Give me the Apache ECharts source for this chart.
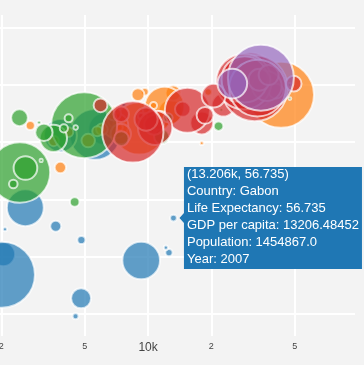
<!DOCTYPE html>
<html>
<head>
<meta charset="utf-8">
<script src="https://cdn.jsdelivr.net/npm/echarts@6/dist/echarts.min.js"></script>
<style>
html,body{margin:0;padding:0;background:rgb(243,243,243);}
#chart{width:364px;height:365px;}
</style>
</head>
<body>
<div id="chart"></div>
<script>
// ---- Data: Gapminder 2007 ----
const africaNames = ["Algeria","Angola","Benin","Botswana","Burkina Faso","Burundi","Cameroon","Central African Republic","Chad","Comoros","Congo, Dem. Rep.","Congo, Rep.","Cote d'Ivoire","Djibouti","Egypt","Equatorial Guinea","Eritrea","Ethiopia","Gabon","Gambia","Ghana","Guinea","Guinea-Bissau","Kenya","Lesotho","Liberia","Libya","Madagascar","Malawi","Mali","Mauritania","Mauritius","Morocco","Mozambique","Namibia","Niger","Nigeria","Reunion","Rwanda","Sao Tome and Principe","Senegal","Sierra Leone","Somalia","South Africa","Sudan","Swaziland","Tanzania","Togo","Tunisia","Uganda","Zambia","Zimbabwe"];
const africaGdp = [6223.37,4797.23,1441.28,12569.85,1217.03,430.07,2042.10,706.02,1704.06,986.15,277.55,3632.56,1544.75,2082.48,5581.18,12154.09,641.37,690.81,13206.48452,752.75,1327.61,942.65,579.23,1463.25,1569.33,414.51,12057.50,1044.77,759.35,1042.58,1803.15,10956.99,3820.18,823.69,4811.06,619.68,2013.98,7670.12,863.09,1598.44,1712.47,862.54,926.14,9269.66,2602.39,4513.48,1107.48,882.97,7092.92,1056.38,1271.21,469.71];
const africaLife = [72.301,42.731,56.728,50.728,52.295,49.58,50.43,44.741,50.651,65.152,46.462,55.322,48.328,54.791,71.338,51.579,58.04,52.947,56.735,59.448,60.022,56.007,46.388,54.11,42.592,45.678,73.952,59.443,48.303,54.467,64.164,72.801,71.164,42.082,52.906,56.867,46.859,76.442,46.242,65.528,63.062,42.568,48.159,49.339,58.556,39.613,52.517,58.42,73.923,51.542,42.384,43.487];
const africaPop = [33333216,12420476,8078314,1639131,14326203,8390505,17696293,4369038,10238807,710960,64606759,3800610,18013409,496374,80264543,551201,4906585,76511887,1454867,1688359,22873338,9947814,1472041,35610177,2012649,3193942,6036914,19167654,13327079,12031795,3270065,1250882,33757175,19951656,2055080,12894865,135031164,798094,8860588,199579,12267493,6144562,9118773,43997828,42292929,1133066,38139640,5701579,10276158,29170398,11746035,12311143];

const americasNames = ["Argentina","Bolivia","Brazil","Canada","Chile","Colombia","Costa Rica","Cuba","Dominican Republic","Ecuador","El Salvador","Guatemala","Haiti","Honduras","Jamaica","Mexico","Nicaragua","Panama","Paraguay","Peru","Puerto Rico","Trinidad and Tobago","United States","Uruguay","Venezuela"];
const americasGdp = [12779.38,3822.14,9065.80,36319.24,13171.64,7006.58,9645.06,8948.10,6025.37,6873.26,5728.35,5186.05,1201.64,3548.33,7320.88,11977.57,2749.32,9809.19,4172.84,7408.91,19328.71,18008.51,42951.65,10611.46,11415.81];
const americasLife = [75.32,65.554,72.39,80.653,78.553,72.889,78.782,78.273,72.235,74.994,71.878,70.259,60.916,70.198,72.567,76.195,72.899,75.537,71.752,71.421,78.746,69.819,78.242,76.384,73.747];
const americasPop = [40301927,9119152,190010647,33390141,16284741,44227550,4133884,11416987,9319622,13755680,6939688,12572928,8502814,7483763,2780132,108700891,5675356,3242173,6667147,28674757,3942491,1056608,301139947,3447496,26084662];

const asiaNames = ["Afghanistan","Bahrain","Bangladesh","Cambodia","China","Hong Kong, China","India","Indonesia","Iran","Iraq","Israel","Japan","Jordan","Korea, Dem. Rep.","Korea, Rep.","Kuwait","Lebanon","Malaysia","Mongolia","Myanmar","Nepal","Oman","Pakistan","Philippines","Saudi Arabia","Singapore","Sri Lanka","Syria","Taiwan","Thailand","Vietnam","West Bank and Gaza","Yemen, Rep."];
const asiaGdp = [974.58,29796.05,1391.25,1713.78,4959.11,39724.98,2452.21,3540.65,11605.71,4471.06,25523.28,31656.07,4519.46,1593.07,23348.14,47306.99,10461.06,12451.66,3095.77,944.00,1091.36,22316.19,2605.95,3190.48,21654.83,47143.18,3970.10,4184.55,28718.28,7458.40,2441.58,3025.35,2280.77];
const asiaLife = [43.828,75.635,64.062,59.723,72.961,82.208,64.698,70.65,70.964,59.545,80.745,82.603,72.535,67.297,78.623,77.588,71.993,74.241,66.803,62.069,63.785,75.64,65.483,71.688,72.777,79.972,72.396,74.143,78.4,70.616,74.249,73.422,62.698];
const asiaPop = [31889923,708573,150448339,14131858,1318683096,6980412,1110396331,223547000,69453570,27499638,6426679,127467972,6053193,23301725,49044790,2505559,3921278,24821286,2874127,47761980,28901790,3204897,169270617,91077287,27601038,4553009,20378239,19314747,23174294,65068149,85262356,4018332,22211743];

const europeNames = ["Albania","Austria","Belgium","Bosnia and Herzegovina","Bulgaria","Croatia","Czech Republic","Denmark","Finland","France","Germany","Greece","Hungary","Iceland","Ireland","Italy","Montenegro","Netherlands","Norway","Poland","Portugal","Romania","Serbia","Slovak Republic","Slovenia","Spain","Sweden","Switzerland","Turkey","United Kingdom"];
const europeGdp = [5937.03,36126.49,33692.61,7446.30,10680.79,14619.22,22833.31,35278.42,33207.08,30470.02,32170.37,27538.41,18008.94,36180.79,40676.00,28569.72,9253.90,36797.93,49357.19,15389.92,20509.65,10808.48,9786.53,18678.31,25768.26,28821.06,33859.75,37506.42,8458.28,33203.26];
const europeLife = [76.423,79.829,79.441,74.852,73.005,75.748,76.486,78.332,79.313,80.657,79.406,79.483,73.338,81.757,78.885,80.546,74.543,79.762,80.196,75.563,78.098,72.476,74.002,74.663,77.926,80.941,80.884,81.701,71.777,79.425];
const europePop = [3600523,8199783,10392226,4552198,7322858,4493312,10228744,5468120,5238460,61083916,82400996,10706290,9956108,301931,4109086,58147733,684736,16570613,4627926,38518241,10642836,22276056,10150265,5447502,2009245,40448191,9031088,7554661,71158647,60776238];

const oceaniaNames = ["Australia","New Zealand"];
const oceaniaGdp = [34435.37,25185.01];
const oceaniaLife = [81.235,80.204];
const oceaniaPop = [20434176,4115771];

const continentNames = ["Africa","Americas","Asia","Europe","Oceania"];
const continentColors = ["#1f77b4","#ff7f0e","#2ca02c","#d62728","#9467bd"];

const xTickValues = [2000, 5000, 10000, 20000, 50000];
const xTickLabels = ["2", "5", "10k", "2", "5"];
const yTickValues = [40, 50, 60, 70, 80, 90];

const hoverCountry = "Gabon";
const hoverYear = 2007;

// ---- Build ----
const groups = [
  [africaNames, africaGdp, africaLife, africaPop],
  [americasNames, americasGdp, americasLife, americasPop],
  [asiaNames, asiaGdp, asiaLife, asiaPop],
  [europeNames, europeGdp, europeLife, europePop],
  [oceaniaNames, oceaniaGdp, oceaniaLife, oceaniaPop]
];
const MAX_D = 66;
const FONT = '"Liberation Sans", Arial, Helvetica, sans-serif';

const series = groups.map((g, ci) => {
  const [names, gdp, life, pop] = g;
  const maxPop = Math.max.apply(null, pop);
  return {
    type: 'scatter',
    name: continentNames[ci],
    data: names.map((n, i) => ({name: n, value: [Math.log10(gdp[i]), life[i], pop[i]]})),
    symbol: 'circle',
    symbolSize: v => MAX_D * Math.sqrt(v[2] / maxPop),
    itemStyle: {color: continentColors[ci], borderColor: '#ffffff', borderWidth: 2, opacity: 0.7},
    emphasis: {disabled: true},
    silent: true,
    animation: false
  };
});

const xTickLogs = xTickValues.map(v => Math.log10(v));

const chart = echarts.init(document.getElementById('chart'), null, {renderer: 'canvas'});
chart.setOption({
  backgroundColor: 'rgb(243,243,243)',
  animation: false,
  grid: {left: 0, right: 9, top: 15, bottom: 29, containLabel: false, outerBoundsMode: 'none'},
  xAxis: {
    type: 'value',
    min: 3.2948, max: 4.9853,
    axisLine: {show: false},
    axisTick: {show: false, customValues: xTickLogs},
    splitLine: {show: true, lineStyle: {color: '#ffffff', width: 2}},
    axisLabel: {
      customValues: xTickLogs,
      margin: 6,
      color: '#444',
      fontFamily: FONT,
      hideOverlap: false,
      formatter: function (v) {
        let best = 0, bd = Infinity;
        xTickLogs.forEach((t, i) => { const d = Math.abs(t - v); if (d < bd) { bd = d; best = i; } });
        const lab = xTickLabels[best];
        return lab.length > 1 ? '{big|' + lab + '}' : '{small|' + lab + '}';
      },
      rich: {
        big: {fontSize: 12, color: '#444', fontFamily: FONT, verticalAlign: 'top'},
        small: {fontSize: 9, color: '#444', fontFamily: FONT, verticalAlign: 'top'}
      }
    }
  },
  yAxis: {
    type: 'value',
    min: 36.16, max: 92.18,
    axisLine: {show: false},
    axisTick: {show: false, customValues: yTickValues},
    axisLabel: {show: false, customValues: yTickValues},
    splitLine: {show: true, lineStyle: {color: '#ffffff', width: 2}}
  },
  series: series
});

// ---- Hover label (Plotly-style) for Gabon ----
const hi = africaNames.indexOf(hoverCountry);
const hGdp = africaGdp[hi], hLife = africaLife[hi], hPop = africaPop[hi];
const p = chart.convertToPixel({gridIndex: 0}, [Math.log10(hGdp), hLife]);
const lines = [
  '(' + (hGdp / 1000).toFixed(3) + 'k, ' + hLife + ')',
  'Country: ' + hoverCountry,
  'Life Expectancy: ' + hLife,
  'GDP per capita: ' + hGdp,
  'Population: ' + hPop.toFixed(1),
  'Year: ' + hoverYear
];
const ctx = document.createElement('canvas').getContext('2d');
ctx.font = '13px ' + FONT;
let tw = 0;
lines.forEach(l => { tw = Math.max(tw, ctx.measureText(l).width); });
const LH = 17;
const boxW = tw + 6;
const boxH = lines.length * LH;
const tipX = p[0] + 6;
const bx = tipX + 4.5;
const cy = p[1];
chart.setOption({
  graphic: [{
    type: 'group',
    z: 100,
    children: [
      {
        type: 'polygon',
        shape: {points: [
          [tipX, cy], [bx, cy - 5], [bx, cy - boxH / 2], [bx + boxW, cy - boxH / 2],
          [bx + boxW, cy + boxH / 2], [bx, cy + boxH / 2], [bx, cy + 5]
        ]},
        style: {fill: continentColors[0], stroke: null}
      },
      {
        type: 'text',
        x: bx + 3,
        y: cy - boxH / 2 - 1,
        style: {
          text: lines.join('\n'),
          fill: '#ffffff',
          font: '13px ' + FONT,
          lineHeight: LH,
          verticalAlign: 'top',
          align: 'left'
        }
      }
    ]
  }]
});
</script>
</body>
</html>
